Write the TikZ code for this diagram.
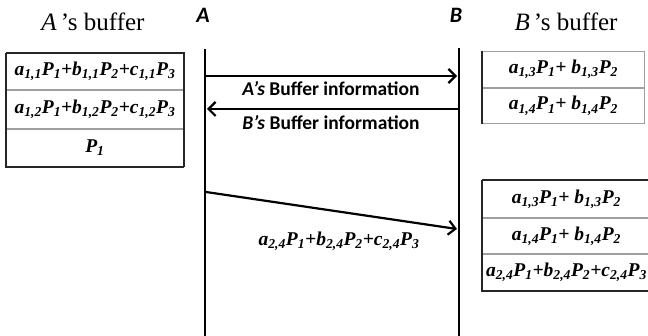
\documentclass[tikz,border=0pt]{standalone}
\usepackage{fontspec}
\setmainfont{Liberation Serif}
\newfontfamily\labfont{Carlito}
\usetikzlibrary{arrows.meta}

\newcommand{\sbs}[1]{\textsubscript{#1}}

\tikzset{
  lifeline/.style={line width=2.8pt, black},
  msg/.style={line width=2.2pt, black, -{Straight Barb[length=7pt, width=14pt, line width=2.2pt]}},
  cell/.style={draw=gray!75, line width=0.9pt, anchor=north west, inner sep=0pt,
    minimum height=#1, font=\fontsize{19.5}{20}\selectfont\bfseries\itshape},
  title/.style={font=\fontsize{25}{27}\selectfont},
  party/.style={font=\labfont\fontsize{22}{23}\selectfont\bfseries\itshape},
  msglabel/.style={font=\labfont\fontsize{19.5}{21}\selectfont\bfseries},
  formula/.style={font=\fontsize{19.5}{20}\selectfont\bfseries\itshape},
  edge/.style={line width=2.2pt, black!85},
}

\begin{document}
\begin{tikzpicture}[x=1pt, y=-1pt]
\useasboundingbox (0,0) rectangle (648,336);

% titles and party names
\node[title] (titleA) at (93,22) {\textit{A}\,’s buffer};
\node[title] (titleB) at (566,22) {\textit{B}\,’s buffer};
\node[party] (labA) at (203,15) {A};
\node[party] (labB) at (456,15) {B};

% lifelines
\coordinate (Atop) at (205,49);
\coordinate (Abot) at (205,336);
\coordinate (Btop) at (459,48);
\coordinate (Bbot) at (459,336);
\draw[lifeline] (Atop) -- (Abot);
\draw[lifeline] (Btop) -- (Bbot);

% buffer exchange
\coordinate (a1) at (206,76);
\coordinate (b1) at (457,76);
\coordinate (a2) at (207,109);
\coordinate (b2) at (458,109);
\draw[msg] (a1) -- (b1);
\draw[msg] (b2) -- (a2);
\node[msglabel] (infoA) at (331,89) {\textit{A’s} Buffer information};
\node[msglabel] (infoB) at (331,123) {\textit{B’s} Buffer information};

% coded packet from A to B
\coordinate (a3) at (206,192);
\coordinate (b3) at (457,229);
\draw[msg] (a3) -- (b3);
\node[formula] (pkt) at (339,241) {a\sbs{2,4}P\sbs{1}+b\sbs{2,4}P\sbs{2}+c\sbs{2,4}P\sbs{3}};

% A's buffer
\node[cell=36pt, minimum width=177pt] (A1) at (6,53) {a\sbs{1,1}P\sbs{1}+b\sbs{1,1}P\sbs{2}+c\sbs{1,1}P\sbs{3}};
\node[cell=38pt, minimum width=177pt] (A2) at (A1.south west) {a\sbs{1,2}P\sbs{1}+b\sbs{1,2}P\sbs{2}+c\sbs{1,2}P\sbs{3}};
\node[cell=37pt, minimum width=177pt] (A3) at (A2.south west) {P\sbs{1}};
\draw[line width=1.3pt, black!85] (A1.north west) -- (A1.north east) -- (A3.south east);
\draw[edge] (A1.north west) -- (A3.south west) -- (A3.south east);

% B's buffer before the packet
\node[cell=36pt, minimum width=162pt] (B1) at (482,51) {a\sbs{1,3}P\sbs{1}+ b\sbs{1,3}P\sbs{2}};
\node[cell=35pt, minimum width=162pt] (B2) at (B1.south west) {a\sbs{1,4}P\sbs{1}+ b\sbs{1,4}P\sbs{2}};
\draw[edge] (B1.north west) -- (B2.south west);

% B's buffer after the packet
\node[cell=37pt, minimum width=168pt] (C1) at (482,180) {a\sbs{1,3}P\sbs{1}+ b\sbs{1,3}P\sbs{2}};
\node[cell=35pt, minimum width=168pt] (C2) at (C1.south west) {a\sbs{1,4}P\sbs{1}+ b\sbs{1,4}P\sbs{2}};
\node[cell=36pt, minimum width=168pt] (C3) at (C2.south west) {a\sbs{2,4}P\sbs{1}+b\sbs{2,4}P\sbs{2}+c\sbs{2,4}P\sbs{3}};
\draw[line width=1.3pt, black!85] (C1.north west) -- (C1.north east);
\draw[edge] (C1.north west) -- (C3.south west) -- (C3.south east);
\end{tikzpicture}
\end{document}
